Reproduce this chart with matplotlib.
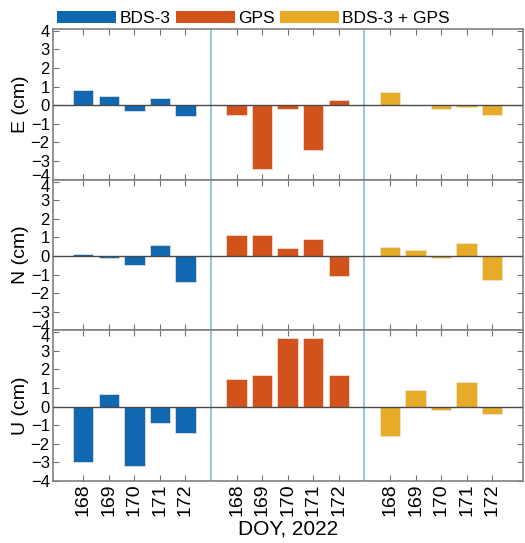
import matplotlib.pyplot as plt
from matplotlib.patches import Patch
from matplotlib.transforms import ScaledTranslation

plt.rcParams['font.family'] = ['Liberation Sans', 'DejaVu Sans']

days = ["168", "169", "170", "171", "172"]
systems = ["BDS-3", "GPS", "BDS-3 + GPS"]
colors = ["#1068b0", "#d2521c", "#e6ac28"]
components = ["E (cm)", "N (cm)", "U (cm)"]

# offsets per component, per system (cm)
east = [
    [0.8, 0.5, -0.3, 0.4, -0.6],
    [-0.5, -3.45, -0.2, -2.4, 0.3],
    [0.7, 0.0, -0.2, -0.1, -0.5],
]
north = [
    [0.1, -0.1, -0.5, 0.6, -1.4],
    [1.1, 1.1, 0.4, 0.9, -1.1],
    [0.5, 0.3, -0.1, 0.7, -1.3],
]
up = [
    [-3.0, 0.7, -3.2, -0.9, -1.4],
    [1.5, 1.7, 3.7, 3.7, 1.7],
    [-1.6, 0.9, -0.2, 1.3, -0.4],
]
all_data = [east, north, up]

fig, axes = plt.subplots(3, 1, figsize=(5.25, 5.43), dpi=100, sharex=True)
fig.subplots_adjust(left=0.1, right=0.996, top=0.9466, bottom=0.1142, hspace=0)

tick_pos = []
tick_lab = []
for g in range(3):
    for i, d in enumerate(days):
        tick_pos.append(g * 6 + i + 1)
        tick_lab.append(d)

for k, (ax, data, label) in enumerate(zip(axes, all_data, components)):
    for g, vals in enumerate(data):
        xs = [g * 6 + i + 1 for i in range(len(vals))]
        ax.bar(xs, vals, width=0.8, color=colors[g], edgecolor="#f3e6dc", linewidth=0.5, zorder=2)
    ax.axhline(0, color="#4a4a4a", lw=1, zorder=3)
    for xd in (6, 12):
        ax.axvline(xd, color="#6fbccb", lw=1.1, zorder=1)
    ax.set_xlim(-0.2, 18.2)
    ax.set_ylim(-4, 4.1)
    ax.set_yticks(range(-4, 5))
    ax.set_ylabel(label, fontsize=14, labelpad=1)
    ax.tick_params(axis="both", direction="in", length=4, color="#707070",
                   top=True, right=True, labelsize=12, pad=2)
    for s in ax.spines.values():
        s.set_color("#808080")
        s.set_linewidth(1.2)
    ylabs = ax.get_yticklabels()
    # nudge the end labels into their own panel so neighbours don't collide
    if k < 2:
        ylabs[0].set_transform(ylabs[0].get_transform() + ScaledTranslation(0, 3 / 72, fig.dpi_scale_trans))
    if k > 0:
        ylabs[-1].set_transform(ylabs[-1].get_transform() + ScaledTranslation(0, -3 / 72, fig.dpi_scale_trans))

axes[-1].set_xticks(tick_pos)
axes[-1].set_xticklabels(tick_lab, rotation=90, fontsize=14)
axes[-1].set_xlabel("DOY, 2022", fontsize=15, labelpad=2)

handles = [Patch(facecolor=c, edgecolor="none") for c in colors]
fig.legend(handles, systems, loc="upper left", bbox_to_anchor=(0.095, 0.993), ncol=3,
           frameon=False, fontsize=12.5, handlelength=3.4, handleheight=0.7,
           handletextpad=0.2, columnspacing=0.3, borderaxespad=0)

fig.savefig("out.png", dpi=100)
